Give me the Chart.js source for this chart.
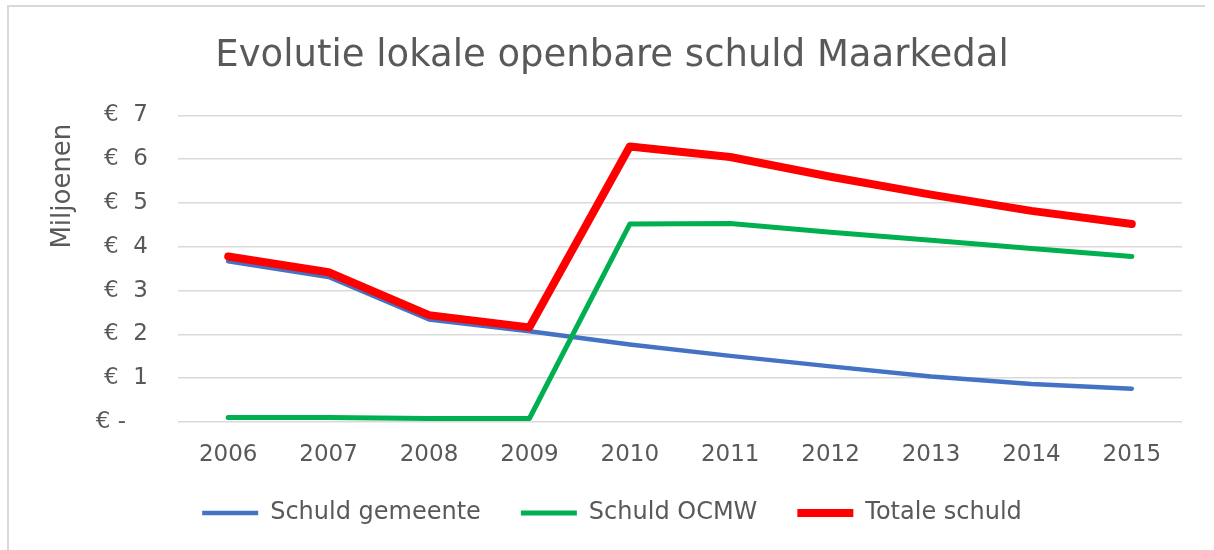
<!DOCTYPE html>
<html lang="nl">
<head>
    <meta charset="UTF-8">
    <title>Evolutie lokale openbare schuld Maarkedal</title>
    <script src="https://cdn.jsdelivr.net/npm/chart.js@4.4.0/dist/chart.umd.min.js"></script>
    <style>
        body { margin: 0; background: #fff; }
        .wrap { position: relative; width: 1214px; height: 550px; overflow: hidden; }
        .frame { position: absolute; left: 7px; top: 5px; width: 1196px; height: 600px;
                 border-left: 2px solid #d9d9d9; border-top: 2px solid #d9d9d9; }
        canvas { position: absolute; left: 0; top: 0; }
    </style>
</head>
<body>
<div class="wrap">
    <div class="frame"></div>
    <canvas id="schuldChart" width="1214" height="550"></canvas>
</div>
<script>
    // jaren en schuld in miljoen euro
    const jaren = ['2006', '2007', '2008', '2009', '2010', '2011', '2012', '2013', '2014', '2015'];
    const schuldGemeente = [3.67, 3.31, 2.34, 2.07, 1.77, 1.51, 1.27, 1.04, 0.87, 0.76];
    const schuldOCMW = [0.10, 0.10, 0.08, 0.08, 4.52, 4.53, 4.33, 4.15, 3.96, 3.78];
    const totaleSchuld = [3.78, 3.42, 2.44, 2.16, 6.29, 6.05, 5.60, 5.19, 4.82, 4.52];

    const grijs = '#595959';
    const lettertype = 'DejaVu Sans';

    const ctx = document.getElementById('schuldChart').getContext('2d');
    new Chart(ctx, {
        type: 'line',
        data: {
            labels: jaren,
            datasets: [
                {
                    label: 'Schuld gemeente',
                    data: schuldGemeente,
                    borderColor: '#4472c4',
                    backgroundColor: '#4472c4',
                    borderWidth: 4.5,
                    order: 3
                },
                {
                    label: 'Schuld OCMW',
                    data: schuldOCMW,
                    borderColor: '#00b050',
                    backgroundColor: '#00b050',
                    borderWidth: 5,
                    order: 2
                },
                {
                    label: 'Totale schuld',
                    data: totaleSchuld,
                    borderColor: '#ff0000',
                    backgroundColor: '#ff0000',
                    borderWidth: 8,
                    order: 1
                }
            ]
        },
        options: {
            responsive: false,
            animation: false,
            elements: {
                line: { tension: 0, borderCapStyle: 'round', borderJoinStyle: 'round' },
                point: { radius: 0, hoverRadius: 0 }
            },
            layout: { padding: { left: 10, right: 0, top: 0, bottom: 15 } },
            scales: {
                x: {
                    offset: true,
                    grid: { display: false },
                    border: { display: false },
                    ticks: { color: grijs, padding: 11, font: { family: lettertype, size: 23 } },
                    afterFit: (scale) => { scale.height = 39; }
                },
                y: {
                    min: 0,
                    max: 7,
                    grid: { color: '#d9d9d9', lineWidth: 1.5, drawTicks: false },
                    border: { display: false },
                    ticks: {
                        stepSize: 1,
                        color: grijs,
                        padding: 30,
                        font: { family: lettertype, size: 23 },
                        callback: (v) => v === 0 ? '€ - \u2007' : '€  ' + v
                    },
                    title: {
                        display: true,
                        text: 'Miljoenen ',
                        align: 'end',
                        color: grijs,
                        padding: { top: 38, bottom: 0 },
                        font: { family: lettertype, size: 26 }
                    },
                    afterFit: (scale) => { scale.width = 168; }
                },
                // lege as rechts: houdt de ruimte naast het plotgebied vrij
                rechts: {
                    type: 'linear',
                    position: 'right',
                    grid: { display: false },
                    border: { display: false },
                    ticks: { display: false },
                    afterFit: (scale) => { scale.width = 32; }
                }
            },
            plugins: {
                title: {
                    display: true,
                    text: 'Evolutie lokale openbare schuld Maarkedal',
                    color: grijs,
                    padding: { top: 34, bottom: 37 },
                    font: { family: lettertype, size: 37, weight: 'normal' }
                },
                legend: {
                    position: 'bottom',
                    labels: {
                        usePointStyle: true,
                        pointStyle: 'line',
                        pointStyleWidth: 56,
                        padding: 40,
                        color: grijs,
                        font: { family: lettertype, size: 24 },
                        sort: (a, b) => a.datasetIndex - b.datasetIndex
                    }
                },
                tooltip: { enabled: false }
            }
        }
    });
</script>
</body>
</html>
